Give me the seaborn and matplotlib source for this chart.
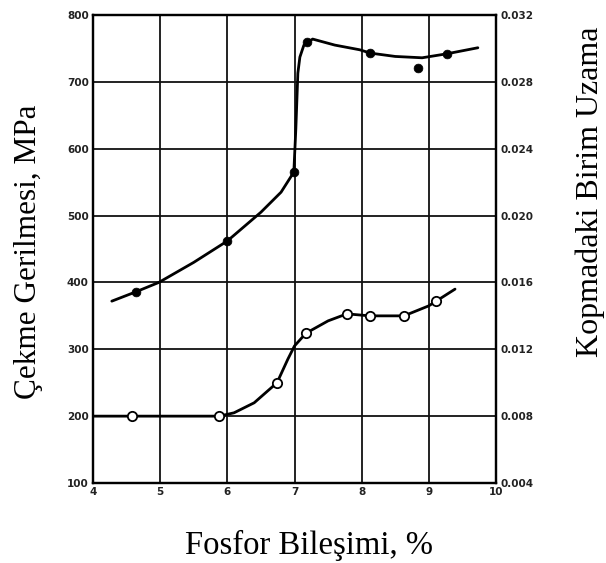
import matplotlib
matplotlib.use("Agg")
import matplotlib.pyplot as plt
import seaborn as sns
import pandas as pd

# Tensile strength (MPa) - measured points (filled)
strength_x = [4.64, 6.00, 6.99, 7.18, 8.13, 8.84, 9.27]
strength_y = [386, 462, 565, 760, 743, 721, 742]
# Tensile strength - drawn curve trace
strength_curve_x = [4.28, 4.64, 4.98, 5.5, 6.0, 6.5, 6.8, 6.99, 7.02, 7.05, 7.08, 7.14, 7.27, 7.6, 7.97, 8.13, 8.5, 8.9, 9.27, 9.73]
strength_curve_y = [372, 386, 400, 430, 462, 505, 535, 565, 630, 713, 737, 755, 764, 755, 748, 743, 738, 736, 742, 751]

# Elongation at break - measured points (open)
elong_x = [4.58, 5.88, 6.74, 7.17, 7.78, 8.12, 8.63, 9.10]
elong_y = [0.0080, 0.0080, 0.0100, 0.01296, 0.01412, 0.0140, 0.0140, 0.01488]
# Elongation - drawn curve trace
elong_curve_x = [4.0, 4.58, 5.88, 6.1, 6.4, 6.74, 6.9, 7.0, 7.17, 7.5, 7.78, 8.12, 8.63, 9.0, 9.39]
elong_curve_y = [0.0080, 0.0080, 0.0080, 0.0082, 0.0088, 0.0100, 0.0114, 0.0122, 0.01296, 0.0137, 0.01412, 0.0140, 0.0140, 0.0146, 0.0156]

x_ticks = [4, 5, 6, 7, 8, 9, 10]
left_ticks = [100, 200, 300, 400, 500, 600, 700, 800]
right_ticks = [0.004, 0.008, 0.012, 0.016, 0.020, 0.024, 0.028, 0.032]
right_tick_labels = ["0.004", "0.008", "0.012", "0.016", "0.020", "0.024", "0.028", "0.032"]

sns.set_theme(style="white")
plt.rcParams['font.family'] = ['DejaVu Sans']

fig = plt.figure(figsize=(6.06, 5.63), dpi=100)
ax = fig.add_axes([93/606, 1-483/563, (496-93)/606, (483-15)/563])
ax2 = ax.twinx()

ax.set_xlim(4, 10)
ax.set_ylim(100, 800)
ax2.set_ylim(0.004, 0.032)
ax.set_xticks(x_ticks)
ax.set_yticks(left_ticks)
ax2.set_yticks(right_ticks)
ax2.set_yticklabels(right_tick_labels)

for v in x_ticks[1:-1]:
    ax.axvline(v, color="#111", lw=1.3, zorder=1)
for v in left_ticks[1:-1]:
    ax.axhline(v, color="#111", lw=1.3, zorder=1)

sc = pd.DataFrame({"x": strength_curve_x, "y": strength_curve_y})
sns.lineplot(data=sc, x="x", y="y", ax=ax, color="black", lw=2.0, sort=False, estimator=None, zorder=3)
sp = pd.DataFrame({"x": strength_x, "y": strength_y})
sns.scatterplot(data=sp, x="x", y="y", ax=ax, color="black", s=40, edgecolor="black", zorder=4)

ec = pd.DataFrame({"x": elong_curve_x, "y": elong_curve_y})
sns.lineplot(data=ec, x="x", y="y", ax=ax2, color="black", lw=2.0, sort=False, estimator=None, zorder=3)
ep = pd.DataFrame({"x": elong_x, "y": elong_y})
sns.scatterplot(data=ep, x="x", y="y", ax=ax2, color="white", s=45, edgecolor="black", linewidth=1.3, zorder=4)

for a in (ax, ax2):
    a.set_xlabel("")
    a.set_ylabel("")
    for s in a.spines.values():
        s.set_color("black")
        s.set_linewidth(1.6)
    a.tick_params(length=0, labelsize=7.5, colors="#222", pad=3)
for lab in ax.get_xticklabels() + ax.get_yticklabels() + ax2.get_yticklabels():
    lab.set_fontweight("bold")
    lab.set_family(["Liberation Sans Narrow", "DejaVu Sans"])

serif = ["Liberation Serif", "DejaVu Serif"]
fig.text(309/606, 1 - 545/563, "Fosfor Bileşimi, %", ha="center", va="center",
         fontsize=23.5, family=serif, color="black")
fig.text(29/606, 1 - 252/563, "Çekme Gerilmesi, MPa", ha="center", va="center", rotation=90,
         fontsize=22.5, family=serif, color="black")
fig.text(590/606, 1 - 192/563, "Kopmadaki Birim Uzama", ha="center", va="center", rotation=90,
         fontsize=23, family=serif, color="black")

fig.savefig("out.png", dpi=100)
